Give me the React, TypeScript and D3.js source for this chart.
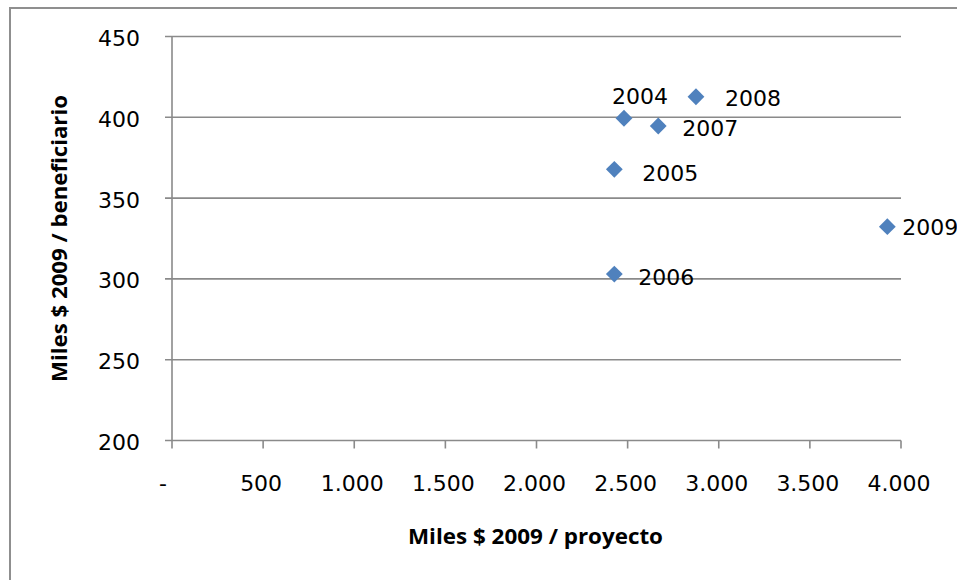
import React from "react";
import * as d3 from "d3";

const years = ["2004", "2005", "2006", "2007", "2008", "2009"];
const milesPorProyecto = [2480, 2427, 2427, 2668, 2875, 3925];
const milesPorBeneficiario = [399.4, 367.8, 303, 394.6, 412.7, 332.3];
const xTicks = [0, 500, 1000, 1500, 2000, 2500, 3000, 3500, 4000];
const yTicks = [200, 250, 300, 350, 400, 450];
const xTitle = "Miles $ 2009 / proyecto";
const yTitle = "Miles $ 2009 / beneficiario";

// label placement (pixel offsets from the marker, label centre)
const labelOffsets: Record<string, [number, number]> = {
  "2004": [16, -22],
  "2005": [56, 4],
  "2006": [52, 3],
  "2007": [52, 2],
  "2008": [57, 1],
  "2009": [43, 0],
};

const W = 957;
const H = 580;
const plot = { left: 172, right: 901, top: 36.5, bottom: 440.5 };

const locale = d3.formatLocale({
  decimal: ",",
  thousands: ".",
  grouping: [3],
  currency: ["$", ""],
});
const fmtThousands = locale.format(",");

export default function App() {
  const x = d3.scaleLinear().domain([0, 4000]).range([plot.left, plot.right]);
  const y = d3.scaleLinear().domain([200, 450]).range([plot.bottom, plot.top]);
  const diamond = d3.symbol().type(d3.symbolDiamond2).size(180)();

  const font = "'DejaVu Sans', sans-serif";
  const titleFont = "'Open Sans', 'DejaVu Sans', sans-serif";
  const gridColor = "#8a8a8a";

  const points = years.map((yr, i) => ({
    yr,
    px: x(milesPorProyecto[i]),
    py: y(milesPorBeneficiario[i]),
  }));

  return (
    <svg
      width={W}
      height={H}
      style={{ position: "absolute", left: 0, top: 0, display: "block", background: "#fff" }}
    >
      <rect x={0} y={0} width={W} height={H} fill="#fff" />
      {/* chart border */}
      <rect x={10} y={8} width={1100} height={700} fill="none" stroke="#8f8f8f" strokeWidth={2} />

      {/* gridlines */}
      {yTicks.map((t) => (
        <line
          key={"g" + t}
          x1={plot.left - 7}
          x2={plot.right}
          y1={y(t)}
          y2={y(t)}
          stroke={gridColor}
          strokeWidth={1.6}
        />
      ))}
      {/* y axis */}
      <line x1={plot.left} x2={plot.left} y1={plot.top} y2={plot.bottom} stroke={gridColor} strokeWidth={1.6} />
      {/* x axis ticks */}
      {xTicks.map((t) => (
        <line
          key={"xt" + t}
          x1={x(t)}
          x2={x(t)}
          y1={plot.bottom}
          y2={plot.bottom + 8}
          stroke={gridColor}
          strokeWidth={1.6}
        />
      ))}

      {/* y tick labels */}
      {yTicks.map((t) => (
        <text
          key={"yl" + t}
          x={140}
          y={y(t) + 9.5}
          textAnchor="end"
          fontFamily={font}
          fontSize={22}
          fill="#000"
        >
          {String(t)}
        </text>
      ))}
      {/* x tick labels */}
      {xTicks.map((t) => (
        <text
          key={"xl" + t}
          x={x(t) - (t === 0 ? 9 : 2)}
          y={491}
          textAnchor="middle"
          fontFamily={font}
          fontSize={22}
          fill="#000"
        >
          {t === 0 ? "-" : fmtThousands(t)}
        </text>
      ))}

      {/* axis titles */}
      <text
        x={535.5}
        y={544}
        textAnchor="middle"
        fontFamily={titleFont}
        fontWeight="bold"
        fontSize={22}
        textLength={255}
        lengthAdjust="spacingAndGlyphs"
        fill="#000"
      >
        {xTitle}
      </text>
      <text
        transform="translate(67,238.5) rotate(-90)"
        textAnchor="middle"
        fontFamily={titleFont}
        fontWeight="bold"
        fontSize={22}
        textLength={287}
        lengthAdjust="spacingAndGlyphs"
        fill="#000"
      >
        {yTitle}
      </text>

      {/* markers */}
      {points.map((p) => (
        <path key={"m" + p.yr} d={diamond || ""} transform={`translate(${p.px},${p.py})`} fill="#4F81BD" />
      ))}
      {/* data labels */}
      {points.map((p) => {
        const [dx, dy] = labelOffsets[p.yr];
        return (
          <text
            key={"l" + p.yr}
            x={p.px + dx}
            y={p.py + dy + 8}
            textAnchor="middle"
            fontFamily={font}
            fontSize={22}
            fill="#000"
          >
            {p.yr}
          </text>
        );
      })}
    </svg>
  );
}
